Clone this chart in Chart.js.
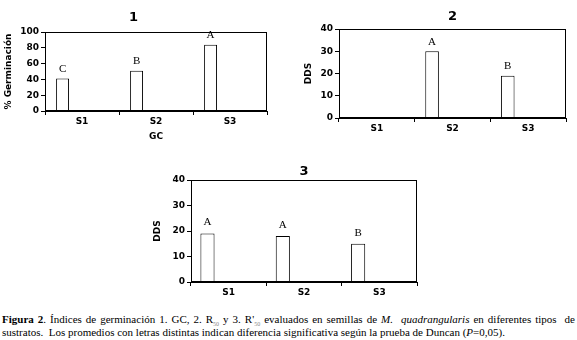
<!DOCTYPE html>
<html>
<head>
<meta charset="utf-8">
<script src="https://cdn.jsdelivr.net/npm/chart.js@4.4.0/dist/chart.umd.min.js"></script>
<style>
body { margin:0; background:#fff; width:577px; height:340px; position:relative; overflow:hidden; }
.box { position:absolute; }
#caption { position:absolute; left:2px; top:313px; width:573px; font-family:'Liberation Serif', serif; font-size:11px; line-height:12.5px; color:#000; }
#caption div { height:12.5px; }
#caption .l1 { text-align:justify; text-align-last:justify; white-space:nowrap; }
#caption sub { font-size:6px; color:#888; line-height:0; vertical-align:-3px; }
</style>
</head>
<body>

<div class="box" style="left:0;top:0"><canvas id="chart1" width="290" height="150"></canvas></div>
<div class="box" style="left:290px;top:0"><canvas id="chart2" width="287" height="150"></canvas></div>
<div class="box" style="left:140px;top:155px"><canvas id="chart3" width="300" height="145"></canvas></div>

<div id="caption">
  <div class="l1"><b>Figura 2</b>. Índices de germinación 1. GC, 2. R<sub>50</sub> y 3. R'<sub>50</sub> evaluados en semillas de <i>M.&nbsp; quadrangularis</i> en diferentes tipos &nbsp;de</div>
  <div>sustratos.&nbsp; Los promedios con letras distintas indican diferencia significativa según la prueba de Duncan (<i>P</i>=0,05).</div>
</div>

<script>
// data
var categories = ['S1', 'S2', 'S3'];

var germinacion = [41, 51, 84];          // 1. GC (%)
var letras1 = ['C', 'B', 'A'];

var dds2 = [null, 30, 19];               // 2. R50
var letras2 = [null, 'A', 'B'];

var dds3 = [19, 18, 15];                 // 3. R'50
var letras3 = ['A', 'A', 'B'];

var yMax1 = 100, yStep1 = 20;
var yMax23 = 40, yStep23 = 10;

/////////////////////////////////////////////////////////////////////////////////////////

Chart.defaults.font.family = 'DejaVu Sans';
Chart.defaults.color = '#000';

const boldFont = { family: 'DejaVu Sans', size: 9, weight: 'bold' };

// box around the plot area
const frame = {
    id: 'frame',
    afterDraw(chart) {
        const a = chart.chartArea;
        const ctx = chart.ctx;
        ctx.save();
        ctx.strokeStyle = '#000';
        ctx.lineWidth = 1;
        ctx.strokeRect(Math.round(a.left) + 0.5, Math.round(a.top) + 0.5,
                       Math.round(a.right - a.left) - 1, Math.round(a.bottom - a.top) - 1);
        ctx.restore();
    }
};

// Duncan letters over each bar
const letras = {
    id: 'letras',
    afterDatasetsDraw(chart, args, opts) {
        const meta = chart.getDatasetMeta(0);
        const ctx = chart.ctx;
        ctx.save();
        ctx.font = '11px "Liberation Serif"';
        ctx.fillStyle = '#000';
        ctx.textAlign = 'center';
        ctx.textBaseline = 'middle';
        meta.data.forEach((bar, i) => {
            const t = opts.labels[i];
            if (!t) return;
            ctx.fillText(t, bar.x, bar.y - opts.gap);
        });
        ctx.restore();
    }
};

function makeChart(id, values, labels, o) {
    // the other series slots of the original clustered chart are empty
    const empty = [null, null, null];
    const mk = (d) => ({
        data: d,
        backgroundColor: '#fff',
        borderColor: '#000',
        borderWidth: 1,
        categoryPercentage: o.catPct,
        barPercentage: 1
    });

    return new Chart(document.getElementById(id), {
        type: 'bar',
        data: {
            labels: categories,
            datasets: [mk(values), mk(empty), mk(empty), mk(empty)]
        },
        options: {
            responsive: false,
            animation: false,
            layout: { padding: { left: 0, right: o.padRight, top: 0, bottom: 0 } },
            plugins: {
                legend: { display: false },
                tooltip: { enabled: false },
                title: {
                    display: true,
                    text: o.title,
                    fullSize: o.titleFull,
                    font: { family: 'DejaVu Sans', size: 13, weight: 'bold' },
                    padding: { top: o.titleTop, bottom: o.titleBottom }
                },
                letras: { labels: labels, gap: o.gap }
            },
            scales: {
                x: {
                    grid: { drawOnChartArea: false, tickLength: 4, color: '#000', offset: true },
                    border: { color: '#000' },
                    ticks: { font: boldFont, padding: 1, color: '#000' },
                    title: {
                        display: !!o.xTitle,
                        text: o.xTitle || '',
                        font: boldFont,
                        padding: { top: 0, bottom: 8 }
                    },
                    afterFit(scale) { scale.height = o.xH; }
                },
                y: {
                    min: 0,
                    max: o.yMax,
                    grid: { drawOnChartArea: false, tickLength: 4, color: '#000' },
                    border: { color: '#000' },
                    ticks: { stepSize: o.yStep, font: boldFont, padding: 2, color: '#000' },
                    title: {
                        display: true,
                        text: o.yTitle,
                        font: boldFont,
                        padding: { top: o.yTitlePad, bottom: 0 }
                    },
                    afterFit(scale) { scale.width = o.yW; }
                }
            }
        },
        plugins: [frame, letras]
    });
}

document.addEventListener('DOMContentLoaded', function() {
    makeChart('chart1', germinacion, letras1, {
        title: '1', titleFull: true, titleTop: 10, titleBottom: 6.4,
        padRight: 23, yW: 45, xH: 39, yMax: yMax1, yStep: yStep1,
        yTitle: '% Germinación', yTitlePad: 3, xTitle: 'GC',
        catPct: 0.70, gap: 10
    });
    makeChart('chart2', dds2, letras2, {
        title: '2', titleFull: false, titleTop: 9, titleBottom: 4.4,
        padRight: 11, yW: 49, xH: 32, yMax: yMax23, yStep: yStep23,
        yTitle: 'DDS', yTitlePad: 13,
        catPct: 0.72, gap: 9.5
    });
    makeChart('chart3', dds3, letras3, {
        title: '3', titleFull: false, titleTop: 9, titleBottom: 0.4,
        padRight: 23, yW: 51, xH: 18, yMax: yMax23, yStep: yStep23,
        yTitle: 'DDS', yTitlePad: 12,
        catPct: 0.75, gap: 11
    });
});
</script>
</body>
</html>
